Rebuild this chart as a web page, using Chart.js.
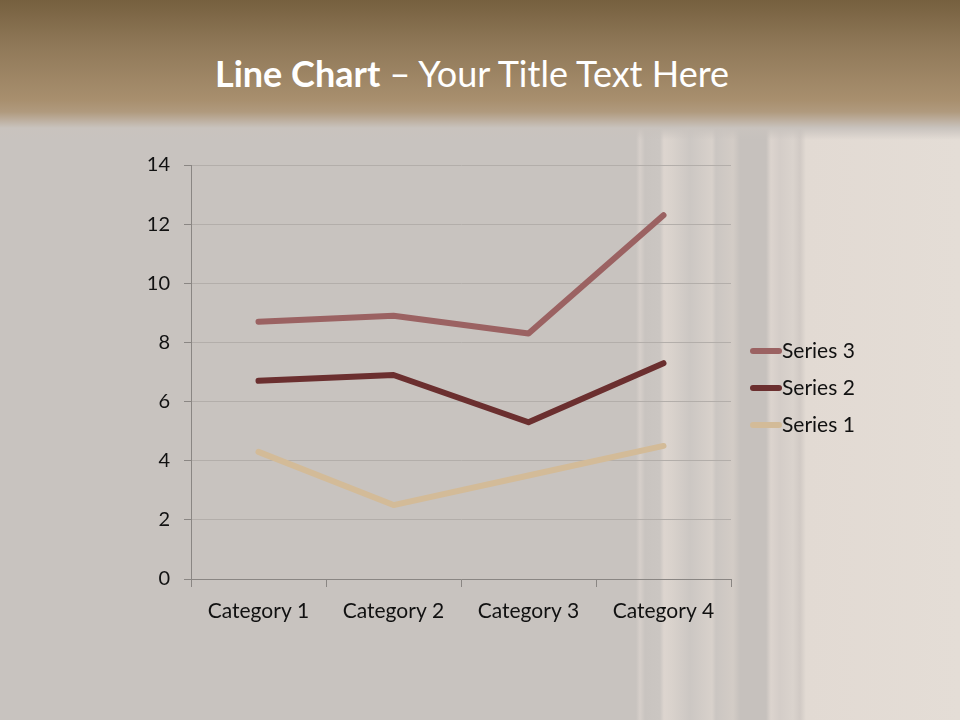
<!DOCTYPE html>
<html>
<head>
<meta charset="utf-8">
<script src="https://cdn.jsdelivr.net/npm/chart.js@4"></script>
<style>
    html, body {
        margin: 0;
        padding: 0;
        width: 960px;
        height: 720px;
        overflow: hidden;
    }
    body {
        position: relative;
        background:
            linear-gradient(to bottom, #76603f 0px, #8f7858 45px, #a88f6e 100px, #b09a7e 112px, #c9c3be 128px, rgba(201,195,190,0) 140px),
            linear-gradient(to right,
                #c8c3bf 0px, #c8c3bf 636px,
                #d6cfca 640px, #c9c4c0 645px, #cbc6c2 660px,
                #ddd5cf 664px, #d9d2cc 672px, #ccc7c3 690px,
                #d8d1cb 712px, #cbc6c2 716px, #d3ccc6 733px, #c6c1bd 740px,
                #c6c1bd 766px, #dcd4ce 771px, #d4cdc8 780px, #dad3cd 793px,
                #d1cac5 800px, #e2dad3 806px, #e4ddd6 960px);
    }
    #title {
        position: absolute;
        left: 0;
        width: 944px;
        top: 51px;
        text-align: center;
        font-family: Lato, "Open Sans", sans-serif;
        font-size: 36px;
        color: #ffffff;
    }
    #title b { font-weight: bold; }
    canvas {
        position: absolute;
        left: 0;
        top: 0;
    }
</style>
</head>
<body>
<div id="title"><b>Line Chart</b> – Your Title Text Here</div>
<canvas id="lineChart" width="960" height="720"></canvas>
<script>
// chart values (stacked line chart: each series sits on the ones below it)
const categories = ['Category 1', 'Category 2', 'Category 3', 'Category 4'];
const series1 = [4.3, 2.5, 3.5, 4.5];
const series2 = [2.4, 4.4, 1.8, 2.8];
const series3 = [2, 2, 3, 5];
const yTicks = [0, 2, 4, 6, 8, 10, 12, 14];

const fontFamily = 'Lato, "Open Sans", sans-serif';

// legend drawn beside the plot, series listed top to bottom in reverse order
const sideLegend = {
    id: 'sideLegend',
    afterDraw(chart) {
        const ctx = chart.ctx;
        const x = chart.chartArea.right + 20;
        let y = 351;
        ctx.save();
        ctx.font = '21px ' + fontFamily;
        ctx.textBaseline = 'middle';
        chart.data.datasets.slice().reverse().forEach(ds => {
            ctx.strokeStyle = ds.borderColor;
            ctx.lineWidth = 6;
            ctx.lineCap = 'round';
            ctx.beginPath();
            ctx.moveTo(x + 2, y);
            ctx.lineTo(x + 28, y);
            ctx.stroke();
            ctx.fillStyle = '#111111';
            ctx.fillText(ds.label, x + 31, y);
            y += 37;
        });
        ctx.restore();
    }
};

const ctx = document.getElementById('lineChart').getContext('2d');
new Chart(ctx, {
    type: 'line',
    data: {
        labels: categories,
        datasets: [{
            label: 'Series 1',
            data: series1,
            borderColor: '#d3bb98'
        }, {
            label: 'Series 2',
            data: series2,
            borderColor: '#6b2f2f'
        }, {
            label: 'Series 3',
            data: series3,
            borderColor: '#9b6262'
        }]
    },
    options: {
        responsive: false,
        animation: false,
        layout: {
            padding: { top: 165, right: 229, left: 0, bottom: 0 }
        },
        elements: {
            line: {
                borderWidth: 6,
                borderCapStyle: 'round',
                borderJoinStyle: 'round',
                tension: 0,
                fill: false
            },
            point: { radius: 0, hoverRadius: 0 }
        },
        plugins: {
            legend: { display: false },
            tooltip: { enabled: false }
        },
        scales: {
            x: {
                offset: true,
                grid: {
                    offset: true,
                    drawOnChartArea: false,
                    drawTicks: true,
                    tickLength: 8,
                    color: '#8a8683'
                },
                border: { color: '#8a8683', width: 1 },
                ticks: {
                    color: '#111111',
                    padding: 12,
                    font: { family: fontFamily, size: 21 }
                },
                afterFit(axis) {
                    axis.height = 141;
                }
            },
            y: {
                stacked: true,
                min: 0,
                max: 14,
                afterBuildTicks(axis) {
                    axis.ticks = yTicks.map(v => ({ value: v }));
                },
                grid: {
                    color: '#b3aeaa',
                    tickLength: 7,
                    tickColor: '#8a8683'
                },
                border: { color: '#8a8683', width: 1 },
                ticks: {
                    color: '#111111',
                    padding: 14,
                    font: { family: fontFamily, size: 20 }
                },
                afterFit(axis) {
                    axis.width = 191;
                }
            }
        }
    },
    plugins: [sideLegend]
});
</script>
</body>
</html>
